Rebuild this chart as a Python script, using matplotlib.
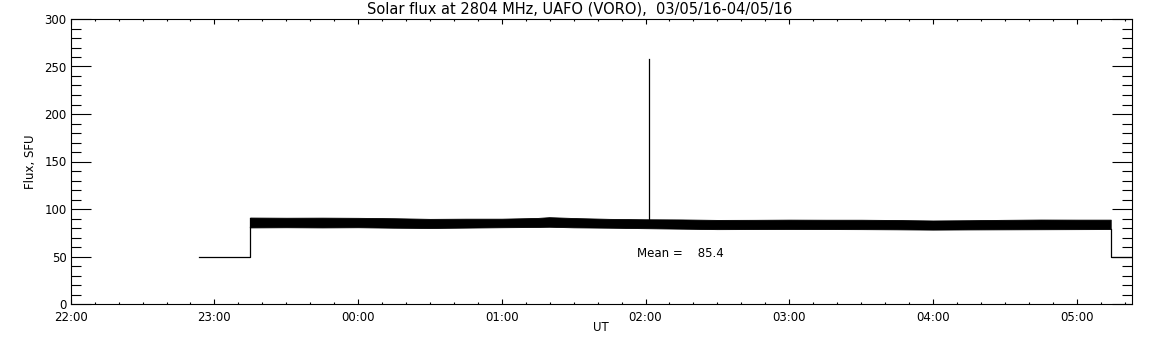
import matplotlib
matplotlib.use("Agg")
import matplotlib.pyplot as plt
from matplotlib.ticker import MultipleLocator, FixedLocator

# ---- data (hours of UT, continuing past midnight as 24+) ----
pre_time = [22.893, 23.25]
pre_flux = [50.0, 50.0]

band_time = [23.25, 23.5, 23.75, 24.0, 24.25, 24.5, 24.75, 25.0, 25.25, 25.33,
             25.5, 25.75, 26.0, 26.25, 26.5, 26.75, 27.0, 27.25, 27.5, 27.75,
             28.0, 28.25, 28.5, 28.75, 29.0, 29.237]
band_upper = [91.0, 90.8, 90.9, 90.7, 90.3, 89.6, 89.8, 89.8, 90.6, 91.4,
              90.5, 89.6, 89.2, 89.0, 88.5, 88.6, 88.8, 88.7, 88.7, 88.4,
              87.9, 88.2, 88.6, 88.9, 88.8, 88.8]
band_lower = [80.6, 80.8, 80.6, 80.8, 80.3, 80.0, 80.4, 80.8, 81.1, 81.3,
              80.7, 80.3, 79.8, 79.3, 78.8, 78.9, 79.0, 78.9, 78.8, 78.6,
              78.3, 78.5, 78.6, 78.7, 78.8, 78.9]

spike_time = 26.025
spike_base = 85.0
spike_peak = 257.4

post_time = [29.237, 29.5]
post_flux = [50.0, 50.0]

mean_flux = 85.4

xtick_hours = [22, 23, 24, 25, 26, 27, 28, 29]
xtick_labels = ["22:00", "23:00", "00:00", "01:00", "02:00", "03:00", "04:00", "05:00"]

title = "Solar flux at 2804 MHz, UAFO (VORO),  03/05/16-04/05/16"

# ---- figure ----
plt.rcParams["font.family"] = ["DejaVu Sans"]
fig = plt.figure(figsize=(11.52, 3.45), dpi=100)
ax = fig.add_axes([70.7 / 1152, 41 / 345, (1131.7 - 70.7) / 1152, (304 - 19) / 345])

lw = 0.9
ax.plot(pre_time + [band_time[0]], pre_flux + [band_lower[0]], color="black", lw=lw)
ax.plot([band_time[0], band_time[0]], [band_lower[0], band_upper[0]], color="black", lw=lw)
ax.fill_between(band_time, band_lower, band_upper, color="black", lw=0.6, edgecolor="black")
ax.plot([spike_time, spike_time], [spike_base, spike_peak], color="black", lw=lw)
ax.plot([band_time[-1]] + post_time, [band_lower[-1]] + post_flux, color="black", lw=lw)

ax.text(25.941, 53.5, "Mean =    %.1f" % mean_flux, fontsize=8.5, ha="left", va="center")

ax.set_xlim(22.0, 29.383)
ax.set_ylim(0, 300)

ax.xaxis.set_major_locator(FixedLocator(xtick_hours))
ax.set_xticklabels(xtick_labels)
ax.xaxis.set_minor_locator(MultipleLocator(1 / 6))
ax.yaxis.set_major_locator(MultipleLocator(50))
ax.yaxis.set_minor_locator(MultipleLocator(10))

ax.tick_params(axis="x", which="major", direction="in", length=3.6, width=0.8,
               top=True, bottom=True, labelsize=8.5, pad=5.0)
ax.tick_params(axis="x", which="minor", direction="in", length=1.6, width=0.8,
               top=True, bottom=True)
ax.tick_params(axis="y", which="major", direction="in", length=14.4, width=0.8,
               left=True, right=True, labelsize=8.5, pad=3)
ax.tick_params(axis="y", which="minor", direction="in", length=7.2, width=0.8,
               left=True, right=True)
for s in ax.spines.values():
    s.set_linewidth(0.8)

fig.text(579.5 / 1152, 1 - 9 / 345, title, fontsize=10.5, ha="center", va="center")
ax.set_xlabel("UT", fontsize=8.5, labelpad=-2)
ax.set_ylabel("Flux, SFU", fontsize=8.5, labelpad=5)

fig.savefig("out.png", dpi=100)
